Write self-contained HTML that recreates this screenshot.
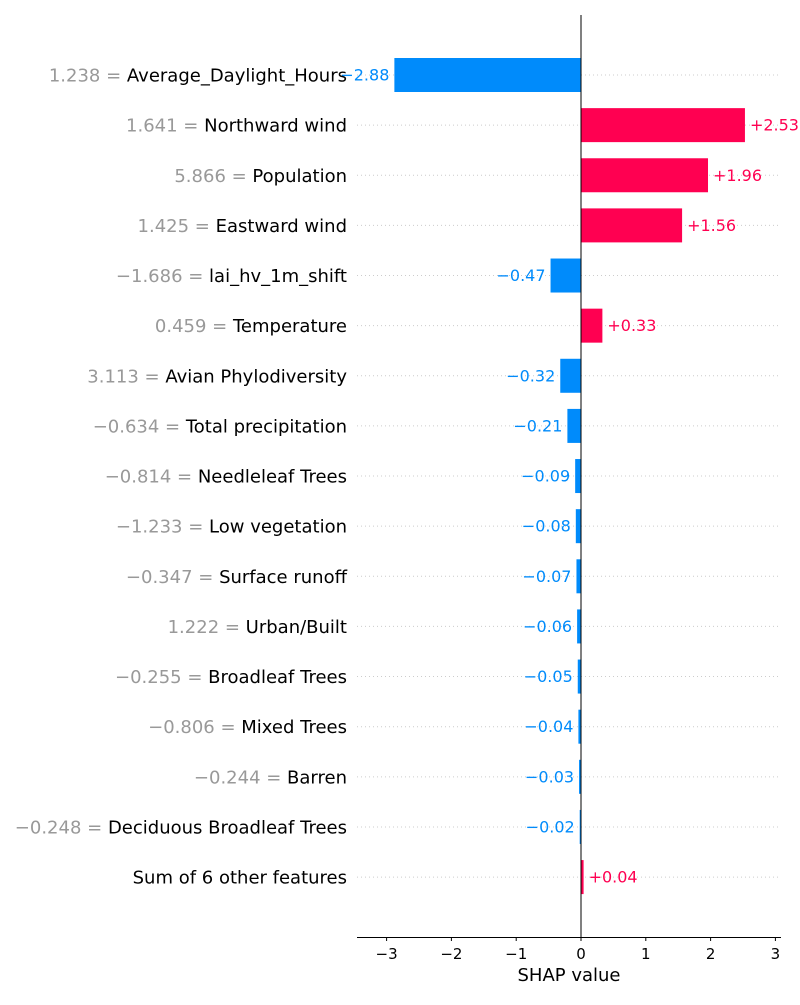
<!DOCTYPE html>
<html><head><meta charset="utf-8"><style>
body{margin:0;background:#fff}
svg text{font-family:"DejaVu Sans","Liberation Sans",sans-serif}
</style></head><body>
<svg id="chart" width="800" height="1000" xmlns="http://www.w3.org/2000/svg"></svg>
<script>
const featureValues=["1.238","1.641","5.866","1.425","\u22121.686","0.459","3.113","\u22120.634","\u22120.814","\u22121.233","\u22120.347","1.222","\u22120.255","\u22120.806","\u22120.244","\u22120.248",""];
const featureNames=["Average_Daylight_Hours","Northward wind","Population","Eastward wind","lai_hv_1m_shift","Temperature","Avian Phylodiversity","Total precipitation","Needleleaf Trees","Low vegetation","Surface runoff","Urban/Built","Broadleaf Trees","Mixed Trees","Barren","Deciduous Broadleaf Trees","Sum of 6 other features"];
const shapValues=[-2.88,2.53,1.96,1.56,-0.47,0.33,-0.32,-0.21,-0.09,-0.08,-0.07,-0.06,-0.05,-0.04,-0.03,-0.02,0.04];
const xTicks=[-3,-2,-1,0,1,2,3];
const svg=document.getElementById('chart');
const NS='http://www.w3.org/2000/svg';
const X=v=>581+v*64.8;
const Y=i=>75+i*50.13;
function mk(t,a,p){const e=document.createElementNS(NS,t);for(const k in a)e.setAttribute(k,a[k]);(p||svg).appendChild(e);return e;}
const pos='#ff0051',neg='#008bfb';
shapValues.forEach((v,i)=>{
  const y=Y(i);
  const g=mk('line',{x1:357,x2:780,y1:y,y2:y,stroke:'#ccc','stroke-width':1,'stroke-dasharray':'1,3'});
  
  
  const x0=Math.min(X(0),X(v)),w=Math.abs(X(v)-X(0));
  const b=mk('rect',{x:x0,y:y-17,width:Math.max(w,1),height:34,fill:v>0?pos:neg});
  
  
  const s=(v>0?'+':'\u2212')+Math.abs(v).toFixed(2);
  const t=mk('text',{x:v>0?X(v)+5:X(v)-5,y:y+5.5,'font-size':16,fill:v>0?pos:neg,'text-anchor':v>0?'start':'end'});
  t.textContent=s;
  
  
  const l=mk('text',{x:347,y:y+6.5,'font-size':18,'text-anchor':'end'});
  
  
  if(featureValues[i]){const a=mk('tspan',{fill:'#999'},l);a.textContent=featureValues[i]+' = ';}
  const n=mk('tspan',{fill:'#000'},l);n.textContent=featureNames[i];
});
const zl=mk('line',{x1:X(0),x2:X(0),y1:15,y2:937,stroke:'#000','stroke-width':1});


const ax=mk('line',{x1:357,x2:781,y1:937.5,y2:937.5,stroke:'#000','stroke-width':1});


xTicks.forEach(t=>{
  const tk=mk('line',{x1:X(t),x2:X(t),y1:937,y2:941,stroke:'#000'});
  
  
  const tl=mk('text',{x:X(t),y:959,'font-size':15,'text-anchor':'middle'});
  tl.textContent=t<0?'\u2212'+(-t):String(t);
  
  
});
const xt=mk('text',{x:569,y:981,'font-size':18,'text-anchor':'middle'});
xt.textContent='SHAP value';


</script>
</body></html>
